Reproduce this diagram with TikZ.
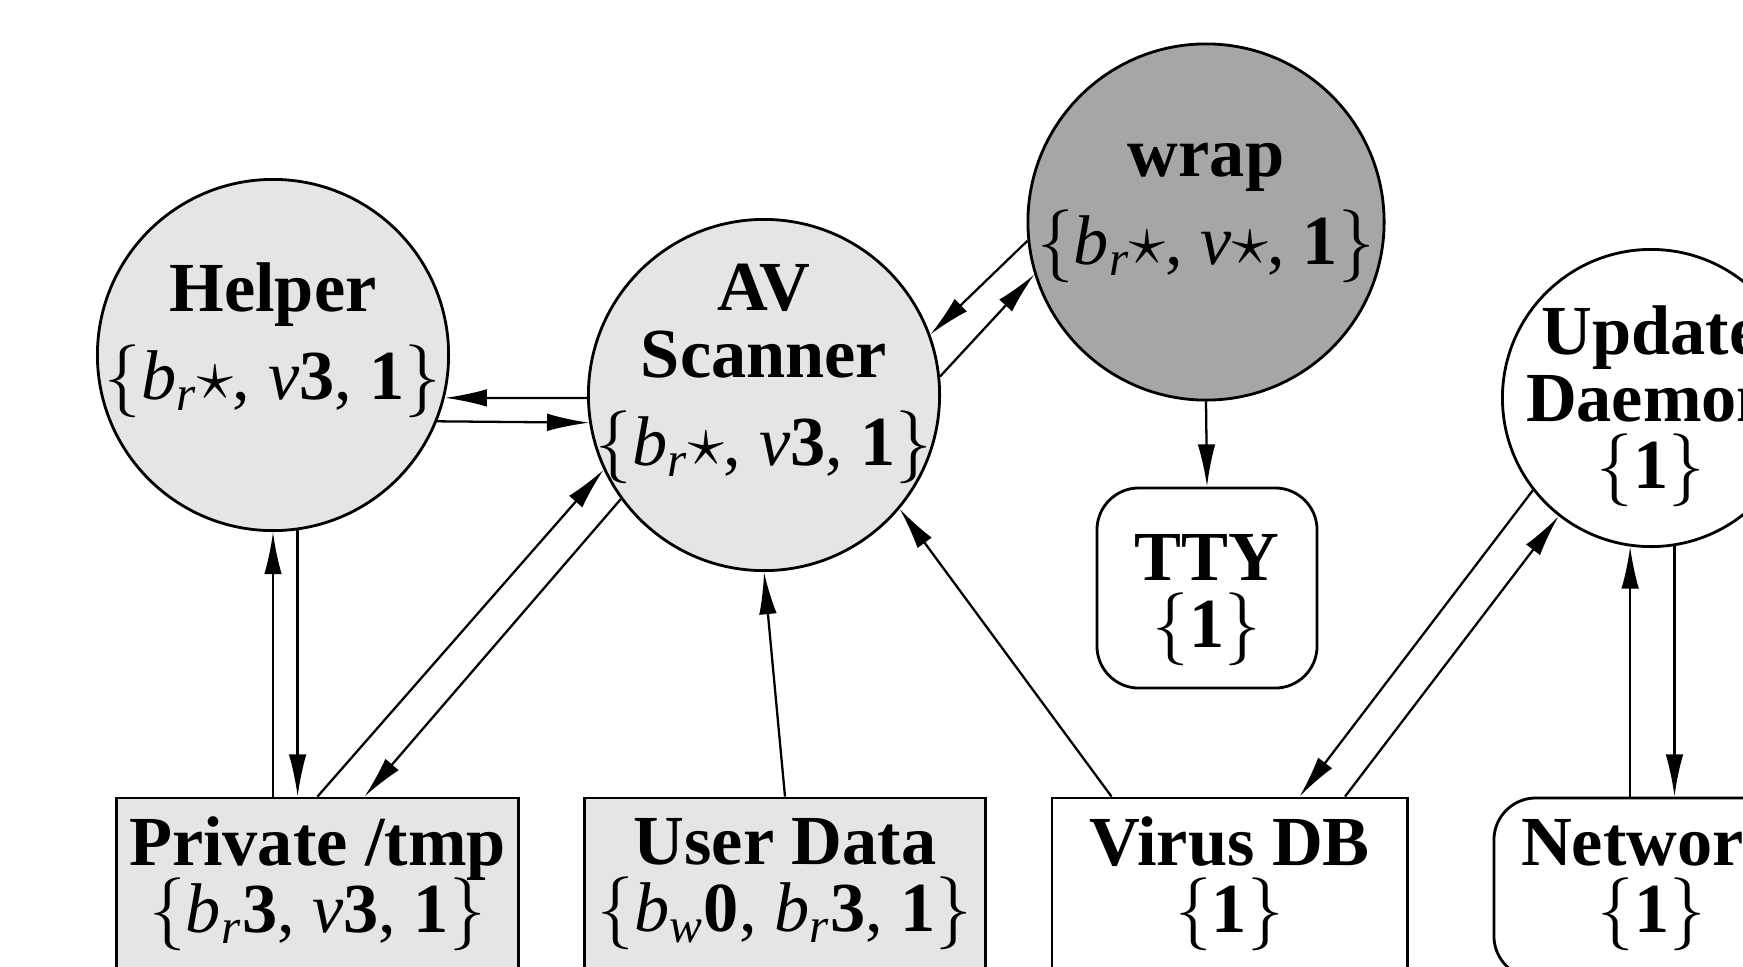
\documentclass[tikz,border=0pt]{standalone}
\usepackage{amsmath}
\usepackage{fontspec}
\setmainfont{Liberation Serif}
\usetikzlibrary{arrows.meta,calc}

\newcommand{\caps}[1]{{\mdseries$\{$#1$\}$}}

\tikzset{
    proc/.style={shape=circle, draw, line width=0.8pt, fill=gray!20, minimum size=3.51cm, inner sep=0pt},
    store/.style={shape=rectangle, draw, line width=0.8pt, minimum height=1.8cm, inner sep=0pt},
    dev/.style={store, rounded corners=0.42cm},
    lbl/.style={anchor=center, align=center, inner sep=0pt, font=\bfseries\fontsize{20}{19}\selectfont, execute at begin node={\lineskiplimit=-20pt}},
    flow/.style={-{Latex[length=12pt,width=5pt]}, line width=0.65pt},
}

\begin{document}
\begin{tikzpicture}[x=0.01cm, y=-0.01cm]
    \useasboundingbox (0,0) rectangle (1743,966);
    % Processes:
    \node[proc] (helper) at (273,355) {} node[lbl] (helper-t) at (273,340) {Helper\\[6pt] \caps{\textit{b}$_{\textit{r}}\star$, \textit{v}\textbf{3}, \textbf{1}}};
    \node[proc] (av) at (764,395) {} node[lbl] (av-t) at (764,374) {AV\\ Scanner\\[6pt] \caps{\textit{b}$_{\textit{r}}\star$, \textit{v}\textbf{3}, \textbf{1}}};
    \node[proc, fill=black!35, minimum size=3.56cm] (wrap) at (1206,222) {} node[lbl] (wrap-t) at (1206,213) {wrap\\[6pt] \caps{\textit{b}$_{\textit{r}}\star$, \textit{v}$\star$, \textbf{1}}};
    \node[proc, fill=white, minimum size=2.97cm] (upd) at (1651,398) {} node[lbl] (upd-t) at (1651,406) {Update\\ Daemon\\ \caps{\textbf{1}}};
    % Resources:
    \node[dev, minimum width=2.2cm, minimum height=2.0cm] (tty) at (1207,588) {} node[lbl] (tty-t) at (1207,600) {TTY\\ \caps{\textbf{1}}};
    \node[store, fill=gray!20, minimum width=4.01cm] (priv) at (317.5,888) {} node[lbl] (priv-t) at (317.5,884) {Private /tmp\\ \caps{\textit{b}$_{\textit{r}}$\textbf{3}, \textit{v}\textbf{3}, \textbf{1}}};
    \node[store, fill=gray!20, minimum width=4.0cm] (user) at (785,888) {} node[lbl] (user-t) at (785,884) {User Data\\ \caps{\textit{b}$_{\textit{w}}$\textbf{0}, \textit{b}$_{\textit{r}}$\textbf{3}, \textbf{1}}};
    \node[store, minimum width=3.55cm] (vdb) at (1229.5,888) {} node[lbl] (vdb-t) at (1229.5,884) {Virus DB\\ \caps{\textbf{1}}};
    \node[dev, minimum width=3.16cm] (net) at (1652,888) {} node[lbl] (net-t) at (1652,884) {Network\\ \caps{\textbf{1}}};
    % Flows:
    \draw[flow] (av.181) -- (helper.-14);
    \draw[flow] (helper.-22) -- (av.189);
    \draw[flow] (wrap.186) -- (av.20);
    \draw[flow] (av.6) -- (wrap.197);
    \draw[flow] (wrap.south) -- (tty.north);
    \draw[flow] (helper.-90 |- priv.north) -- (helper.-90);
    \draw[flow] (helper.-82.5) -- (helper.-82.5 |- priv.north);
    \draw[flow] (priv.north) -- (av.205);
    \draw[flow] (av.216.6) -- ($(priv.north)+(47,0)$);
    \draw[flow] (user.north) -- (av.south);
    \draw[flow] ($(vdb.north)+(-118,0)$) -- (av.-40.3);
    \draw[flow] (upd.218.7) -- ($(vdb.north)+(70,0)$);
    \draw[flow] ($(vdb.north)+(115.5,0)$) -- (upd.232.8);
    \draw[flow] (upd.-98.5 |- net.north) -- (upd.-98.5);
    \draw[flow] (upd.-81.5) -- (upd.-81.5 |- net.north);
\end{tikzpicture}
\end{document}
